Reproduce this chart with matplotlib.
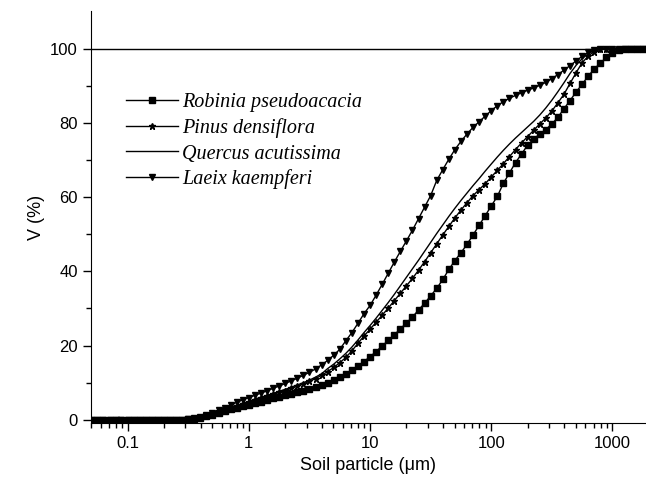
import numpy as np
import matplotlib
matplotlib.use("Agg")
import matplotlib.pyplot as plt
from matplotlib.ticker import FixedLocator, LogLocator, NullFormatter

plt.rcParams['font.family'] = ['Liberation Sans', 'DejaVu Sans']

# particle size classes (um)
size = [0.05, 0.056, 0.063, 0.071, 0.08, 0.089,
        0.1, 0.112, 0.126, 0.142, 0.159, 0.178, 0.2, 0.224, 0.252, 0.283,
        0.317, 0.356, 0.399, 0.448, 0.502, 0.564, 0.632, 0.71, 0.796, 0.893,
        1.002, 1.125, 1.262, 1.416, 1.589, 1.783, 2.0, 2.244, 2.518, 2.825,
        3.17, 3.557, 3.991, 4.477, 5.024, 5.637, 6.325, 7.096, 7.962, 8.934,
        10.02, 11.25, 12.62, 14.16, 15.89, 17.83, 20.0, 22.44, 25.18, 28.25,
        31.7, 35.57, 39.91, 44.77, 50.24, 56.37, 63.25, 70.96, 79.62, 89.34,
        100.2, 112.5, 126.2, 141.6, 158.9, 178.3, 200.0, 224.4, 251.8, 282.5,
        317.0, 355.7, 399.1, 447.7, 502.4, 563.7, 632.5, 709.6, 796.2, 893.4,
        1002, 1125, 1262, 1416, 1589, 1783]

robinia = [0, 0, 0, 0, 0, 0,
           0, 0, 0, 0, 0, 0, 0, 0, 0, 0,
           0.1, 0.3, 0.6, 1.0, 1.4, 1.9, 2.4, 2.9, 3.3, 3.7,
           4.1, 4.5, 4.9, 5.3, 5.8, 6.2, 6.6, 7.0, 7.4, 7.8,
           8.3, 8.8, 9.4, 10.0, 10.7, 11.5, 12.4, 13.4, 14.5, 15.7,
           17.0, 18.4, 19.9, 21.4, 22.9, 24.5, 26.1, 27.7, 29.6, 31.4,
           33.4, 35.4, 37.8, 40.5, 42.9, 45.0, 47.3, 49.8, 52.4, 55.0,
           57.6, 60.2, 63.7, 66.5, 69.3, 71.6, 74.0, 75.7, 76.9, 78.2,
           79.7, 81.5, 83.8, 86.0, 88.3, 90.4, 92.6, 94.5, 96.1, 97.6,
           98.8, 99.6, 100, 100, 100, 100]

pinus = [0, 0, 0, 0, 0, 0,
         0, 0, 0, 0, 0, 0, 0, 0, 0, 0,
         0.1, 0.3, 0.6, 1.0, 1.5, 2.0, 2.5, 3.1, 3.7, 4.3,
         4.9, 5.4, 5.9, 6.4, 6.9, 7.4, 7.9, 8.5, 9.1, 9.7,
         10.4, 11.1, 12.0, 13.0, 14.1, 15.4, 16.8, 18.6, 20.6, 22.6,
         24.4, 26.3, 28.2, 30.1, 32.1, 34.1, 36.1, 38.1, 40.3, 42.6,
         45.0, 47.4, 49.8, 52.1, 54.4, 56.5, 58.5, 60.4, 62.0, 63.6,
         65.4, 67.2, 69.0, 70.9, 72.8, 74.6, 76.3, 78.0, 79.7, 81.3,
         83.2, 85.4, 87.7, 90.6, 93.5, 96.2, 98.0, 99.2, 99.8, 100,
         100, 100, 100, 100, 100, 100]

quercus = [0, 0, 0, 0, 0, 0,
           0, 0, 0, 0, 0, 0, 0, 0, 0, 0,
           0.1, 0.3, 0.6, 1.0, 1.5, 2.0, 2.6, 3.2, 3.8, 4.4,
           5.0, 5.6, 6.1, 6.6, 7.1, 7.7, 8.2, 8.8, 9.4, 10.0,
           10.7, 11.5, 12.4, 13.8, 15.0, 16.4, 17.9, 19.6, 21.5, 23.5,
           25.4, 27.4, 29.5, 31.6, 33.8, 36.1, 38.4, 40.7, 43.0, 45.4,
           47.8, 50.2, 52.5, 54.8, 57.0, 59.1, 61.1, 63.1, 65.0, 67.0,
           68.9, 70.8, 72.6, 74.3, 75.9, 77.4, 78.9, 80.4, 82.1, 84.0,
           86.1, 88.4, 90.8, 93.3, 95.5, 97.3, 98.6, 99.5, 99.9, 100,
           100, 100, 100, 100, 100, 100]

laeix = [0, 0, 0, 0, 0, 0,
         0, 0, 0, 0, 0, 0, 0, 0, 0, 0,
         0.1, 0.4, 0.8, 1.3, 1.9, 2.6, 3.3, 4.0, 4.7, 5.4,
         6.0, 6.6, 7.2, 7.8, 8.5, 9.1, 9.8, 10.5, 11.2, 12.0,
         12.8, 13.7, 14.8, 16.0, 17.4, 19.0, 21.3, 23.5, 26.0, 28.6,
         30.8, 33.6, 36.5, 39.5, 42.5, 45.4, 48.2, 51.1, 54.2, 57.3,
         60.4, 64.5, 67.4, 70.2, 72.8, 75.0, 77.0, 78.8, 80.3, 81.8,
         83.3, 84.6, 85.7, 86.6, 87.4, 88.1, 88.8, 89.4, 90.1, 90.9,
         91.9, 93.0, 94.2, 95.4, 96.7, 97.9, 99.0, 99.7, 100, 100,
         100, 100, 100, 100, 100, 100]

fig = plt.figure(figsize=(6.46, 4.98), dpi=100)
ax = fig.add_axes([0.141, 0.151, 0.857, 0.826])

ax.plot(size, robinia, color='black', lw=1, marker='s', ms=4.5,
        label='Robinia pseudoacacia')
ax.plot(size, pinus, color='black', lw=1, marker='*', ms=5,
        label='Pinus densiflora')
ax.plot(size, quercus, color='black', lw=1, label='Quercus acutissima')
ax.plot(size, laeix, color='black', lw=1, marker='v', ms=5,
        label='Laeix kaempferi')
ax.axhline(100, color='black', lw=1)

ax.set_xscale('log')
ax.set_xlim(0.05, 1850)
ax.set_ylim(-0.8, 110)

ax.set_xticks([0.1, 1, 10, 100, 1000])
ax.set_xticklabels(['0.1', '1', '10', '100', '1000'])
ax.xaxis.set_minor_locator(LogLocator(base=10, subs=np.arange(2, 10)))
ax.xaxis.set_minor_formatter(NullFormatter())
ax.set_yticks([0, 20, 40, 60, 80, 100])
ax.yaxis.set_minor_locator(FixedLocator([10, 30, 50, 70, 90]))

ax.spines['top'].set_visible(False)
ax.spines['right'].set_visible(False)
ax.tick_params(which='major', direction='out', length=6, width=1, labelsize=12)
ax.tick_params(which='minor', direction='out', length=3.5, width=1)

ax.set_xlabel('Soil particle (\u03bcm)', fontsize=13)
ax.set_ylabel('V (%)', fontsize=13)

leg = ax.legend(loc='upper left', bbox_to_anchor=(0.03, 0.845), frameon=False,
                prop={'family': 'Liberation Serif', 'style': 'italic', 'size': 14.5},
                handlelength=2.6, handletextpad=0.2, labelspacing=0.3)

fig.savefig('out.png', dpi=100)
